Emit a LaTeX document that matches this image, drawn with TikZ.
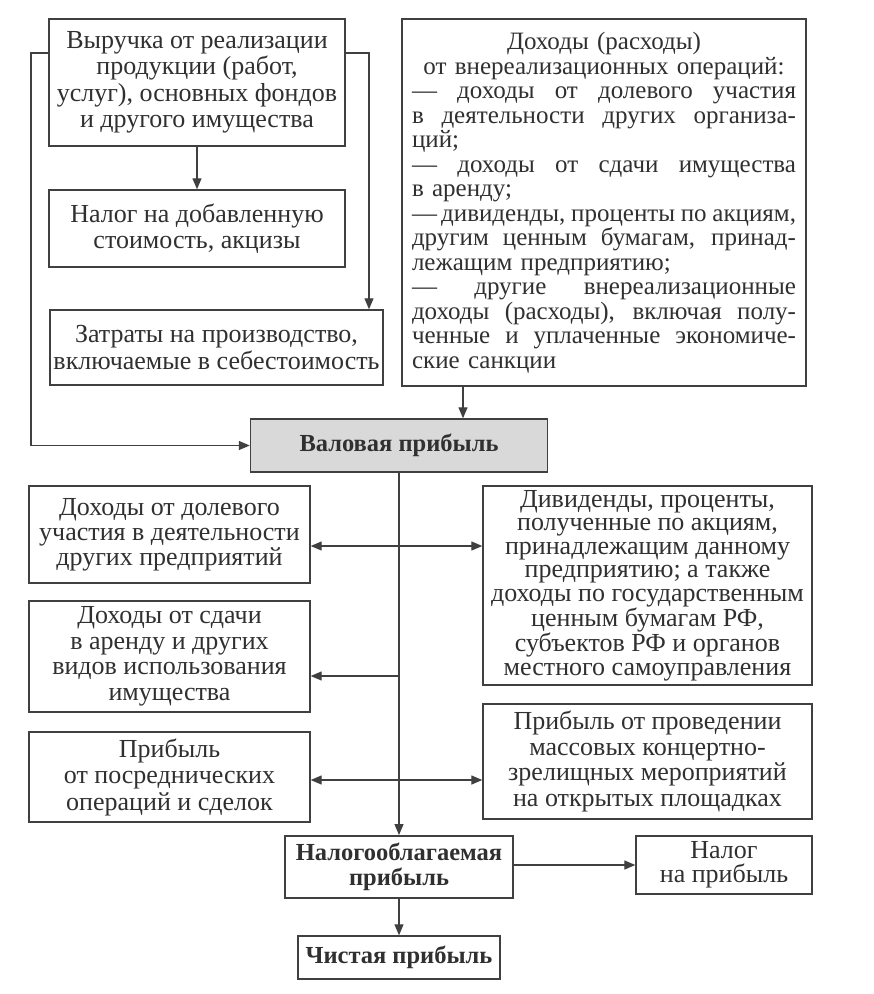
\documentclass[tikz,border=0pt]{standalone}
\usepackage{fontspec}
\setmainfont{Liberation Serif}
\usetikzlibrary{arrows.meta}
\definecolor{ink}{HTML}{303030}
\definecolor{edge}{HTML}{404040}
\definecolor{valfill}{HTML}{D9D9D9}
\newcommand{\myjustline}[1]{\leavevmode\hbox to 384pt{\spaceskip=0.25em plus 1fil minus 0.12em\relax #1}}
\newcommand{\mycentline}[1]{\leavevmode\hbox to 384pt{\hfil #1\hfil}}
\newcommand{\myleftline}[1]{\leavevmode\hbox to 384pt{#1\hfil}}
\begin{document}
\begin{tikzpicture}[x=1pt,y=-1pt,
  box/.style={draw=edge,line width=1.4pt,text=ink,inner sep=0pt,align=center,
    font=\fontsize{26}{26.5}\selectfont},
  boldbox/.style={box,font=\fontsize{24.5}{24.5}\selectfont\bfseries},
  conn/.style={draw=edge,line width=1.3pt},
  arr/.style={conn,-{Triangle[length=11pt,width=9pt]}},
  darr/.style={conn,{Triangle[length=11pt,width=9pt]}-{Triangle[length=11pt,width=9pt]}},
]
\useasboundingbox[fill=white] (0,0) rectangle (874,994);

\node[box,minimum width=296pt,minimum height=127pt] (b1) at (197,82.5)
  {Выручка от реализации\\продукции (работ,\\услуг), основных фондов\\и другого имущества};
\node[box,minimum width=296pt,minimum height=77pt] (b2) at (197,228.5)
  {Налог на добавленную\\стоимость, акцизы};
\node[box,minimum width=333pt,minimum height=75pt] (b3) at (216.5,347.5)
  {Затраты на производство,\\включаемые в себестоимость};
\node[box,minimum width=404pt,minimum height=367pt,text width=384pt,align=left,
  font=\fontsize{25}{24.5}\selectfont] (b4) at (604,202.5)
  {\mycentline{Доходы (расходы)}\\
   \mycentline{от внереализационных операций:}\\
   \myjustline{— доходы от долевого участия}\\
   \myjustline{в деятельности других организа-}\\
   \myleftline{ций;}\\
   \myjustline{— доходы от сдачи имущества}\\
   \myleftline{в аренду;}\\
   \myjustline{—\,дивиденды, проценты по акциям,}\\
   \myjustline{другим ценным бумагам, принад-}\\
   \myleftline{лежащим предприятию;}\\
   \myjustline{— другие внереализационные}\\
   \myjustline{доходы (расходы), включая полу-}\\
   \myjustline{ченные и уплаченные экономиче-}\\
   \myleftline{ские санкции}};

\node[boldbox,fill=valfill,minimum width=297pt,minimum height=53pt] (val) at (399,445.5)
  {Валовая прибыль};

\node[box,minimum width=281pt,minimum height=97pt,font=\fontsize{26}{25}\selectfont] (L1) at (169.5,534.5)
  {Доходы от долевого\\участия в деятельности\\других предприятий};
\node[box,minimum width=281pt,minimum height=111pt,font=\fontsize{26}{25.5}\selectfont] (L2) at (169.5,656.5)
  {Доходы от сдачи\\в аренду и других\\видов использования\\имущества};
\node[box,minimum width=281pt,minimum height=90pt] (L3) at (169.5,777)
  {Прибыль\\от посреднических\\операций и сделок};

\node[box,minimum width=329pt,minimum height=199pt,font=\fontsize{26}{23.5}\selectfont] (R1) at (647.5,585.5)
  {Дивиденды, проценты,\\полученные по акциям,\\принадлежащим данному\\предприятию; а также\\доходы по государственным\\ценным бумагам РФ,\\субъектов РФ и органов\\местного самоуправления};
\node[box,minimum width=329pt,minimum height=115pt,font=\fontsize{26}{25.5}\selectfont] (R2) at (647.5,761.5)
  {Прибыль от проведении\\массовых концертно-\\зрелищных мероприятий\\на открытых площадках};

\node[boldbox,line width=1.9pt,minimum width=228pt,minimum height=62pt] (tax) at (399,867)
  {Налогооблагаемая\\прибыль};
\node[box,minimum width=176pt,minimum height=58pt,font=\fontsize{26}{24}\selectfont] (ntax) at (724,865)
  {Налог\\на прибыль};
\node[boldbox,minimum width=202pt,minimum height=43pt] (net) at (399,957.5)
  {Чистая прибыль};

\coordinate (lt) at (31,53);
\coordinate (rt) at (369,53);
\coordinate (b4out) at (463,0);

\draw[arr] (b1.west |- lt) -- (lt) |- (val.west);
\draw[arr] (b1.east |- rt) -- (rt) -- (rt |- b3.north);
\draw[arr] (b1) -- (b2);
\draw[arr] (b4out |- b4.south) -- (b4out |- val.north);
\draw[arr] (val.south) -- (tax.north);
\draw[darr] (L1.east |- 0,546) -- (R1.west |- 0,546);
\draw[arr] (val.south |- 0,676) -- (L2.east |- 0,676);
\draw[darr] (L3.east |- 0,780) -- (R2.west |- 0,780);
\draw[arr] (tax.east |- ntax.west) -- (ntax.west);
\draw[arr] (tax.south) -- (net.north);
\end{tikzpicture}
\end{document}
